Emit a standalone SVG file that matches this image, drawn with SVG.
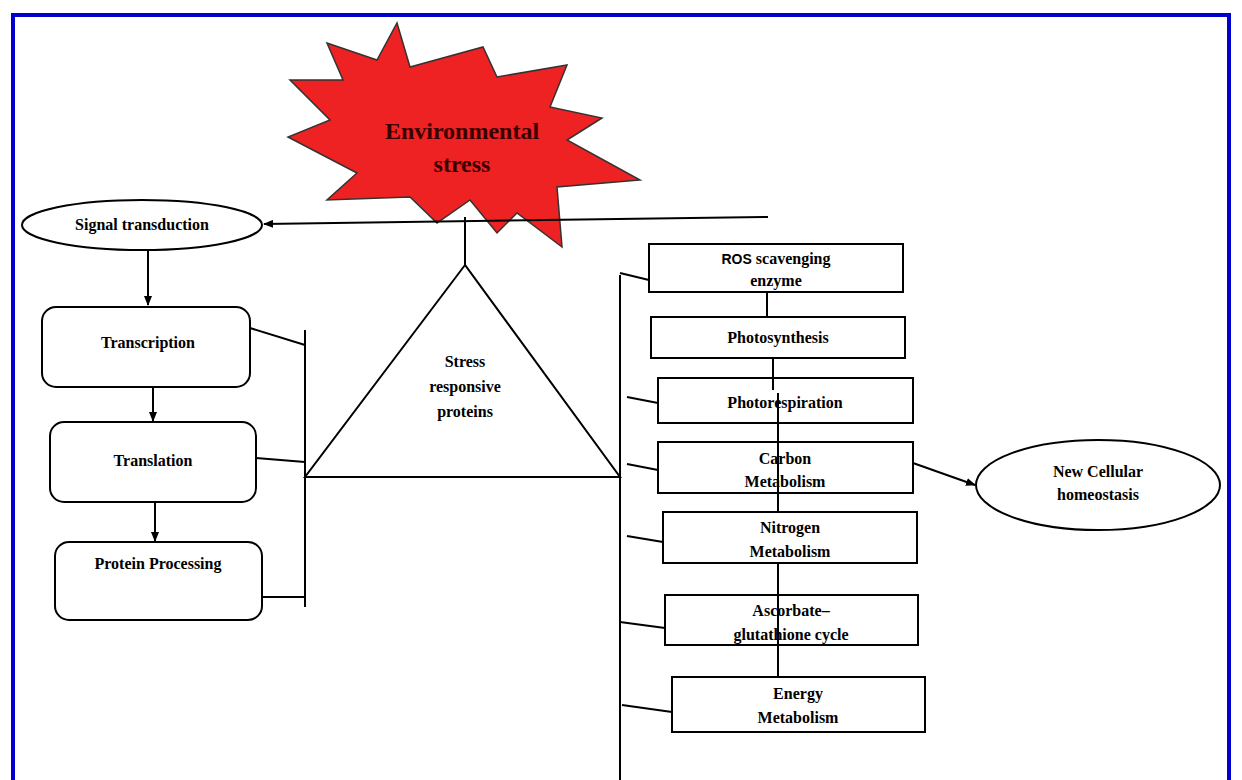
<svg xmlns="http://www.w3.org/2000/svg" width="1242" height="780" viewBox="0 0 1242 780">
<style>
.t{font-family:"Liberation Serif",serif;font-weight:bold;font-size:16px;fill:#000;text-anchor:middle}
.big{font-size:24px;fill:#3a0000}
.n{fill:#fff;stroke:#000;stroke-width:2}
.c{stroke:#000;stroke-width:2;fill:none}
</style>
<defs><marker id="a" markerWidth="10" markerHeight="8" refX="9" refY="4" orient="auto" markerUnits="userSpaceOnUse"><path d="M0,0L10,4L0,8z"/></marker></defs>
<rect width="1242" height="780" fill="#fff"/>
<rect x="13" y="15" width="1216" height="770" fill="none" stroke="#0000cc" stroke-width="4"/>
<g id="stress">
<polygon points="397,23 410,67 483,47 497,77 567,65 550,107 602,118 567,140 640,180 557,187 562,247 517,213 497,233 470,200 437,223 410,197 327,200 357,173 288,137 330,120 290,80 343,80 327,43 377,60" fill="#ee2222" stroke="#333" stroke-width="1.5"/>
<text class="t big" x="462" y="139">Environmental</text>
<text class="t big" x="462" y="172">stress</text>
</g>
<g id="connectors">
<line class="c" x1="768" y1="217" x2="264" y2="224" marker-end="url(#a)"/>
<line class="c" x1="465" y1="217" x2="465" y2="265"/>
<line class="c" x1="148" y1="250" x2="148" y2="305" marker-end="url(#a)"/>
<line class="c" x1="153" y1="387" x2="153" y2="421" marker-end="url(#a)"/>
<line class="c" x1="155" y1="502" x2="155" y2="541" marker-end="url(#a)"/>
<line class="c" x1="305" y1="330" x2="305" y2="607"/>
<line class="c" x1="250" y1="328" x2="305" y2="345"/>
<line class="c" x1="256" y1="458" x2="305" y2="462"/>
<line class="c" x1="262" y1="597" x2="305" y2="597"/>
<line class="c" x1="620" y1="275" x2="620" y2="780"/>
<line class="c" x1="620" y1="273" x2="649" y2="280"/>
<line class="c" x1="627" y1="397" x2="658" y2="403"/>
<line class="c" x1="627" y1="464" x2="658" y2="470"/>
<line class="c" x1="627" y1="536" x2="663" y2="542"/>
<line class="c" x1="620" y1="622" x2="665" y2="628"/>
<line class="c" x1="622" y1="705" x2="672" y2="712"/>
</g>
<g id="triangle"><polygon class="n" points="465,265 305,477 620,477"/>
<text class="t" x="465" y="367">Stress</text><text class="t" x="465" y="392">responsive</text><text class="t" x="465" y="417">proteins</text></g>
<g id="signal"><ellipse class="n" cx="142" cy="225" rx="120" ry="25"/><text class="t" x="142" y="230">Signal transduction</text></g>
<g id="transcription"><rect class="n" x="42" y="307" width="208" height="80" rx="14"/><text class="t" x="148" y="348">Transcription</text></g>
<g id="translation"><rect class="n" x="50" y="422" width="206" height="80" rx="14"/><text class="t" x="153" y="466">Translation</text></g>
<g id="processing"><rect class="n" x="55" y="542" width="207" height="78" rx="14"/><text class="t" x="158" y="569">Protein Processing</text></g>
<g id="ros"><rect class="n" x="649" y="244" width="254" height="48"/><text class="t" x="776" y="264"><tspan font-family="Liberation Sans,sans-serif" font-size="14">ROS</tspan> scavenging</text><text class="t" x="776" y="286">enzyme</text></g>
<g id="photosynthesis"><rect class="n" x="651" y="317" width="254" height="41"/><text class="t" x="778" y="343">Photosynthesis</text></g>
<g id="photorespiration"><rect class="n" x="658" y="378" width="255" height="45"/><text class="t" x="785" y="408">Photorespiration</text></g>
<g id="carbon"><rect class="n" x="658" y="442" width="255" height="51"/><text class="t" x="785" y="464">Carbon</text><text class="t" x="785" y="487">Metabolism</text></g>
<g id="nitrogen"><rect class="n" x="663" y="512" width="254" height="51"/><text class="t" x="790" y="533">Nitrogen</text><text class="t" x="790" y="557">Metabolism</text></g>
<g id="ascorbate"><rect class="n" x="665" y="595" width="253" height="50"/><text class="t" x="791" y="616">Ascorbate–</text><text class="t" x="791" y="640">glutathione cycle</text></g>
<g id="energy"><rect class="n" x="672" y="677" width="253" height="55"/><text class="t" x="798" y="699">Energy</text><text class="t" x="798" y="723">Metabolism</text></g>
<g id="homeostasis"><ellipse class="n" cx="1098" cy="485" rx="122" ry="45"/><text class="t" x="1098" y="477">New Cellular</text><text class="t" x="1098" y="500">homeostasis</text></g>
<g id="links">
<line class="c" x1="767" y1="292" x2="767" y2="317"/>
<line class="c" x1="773" y1="358" x2="773" y2="390"/>
<line class="c" x1="778" y1="393" x2="778" y2="512"/>
<line class="c" x1="778" y1="563" x2="778" y2="677"/>
<line class="c" x1="913" y1="463" x2="975" y2="485" marker-end="url(#a)"/>
</g>
</svg>
